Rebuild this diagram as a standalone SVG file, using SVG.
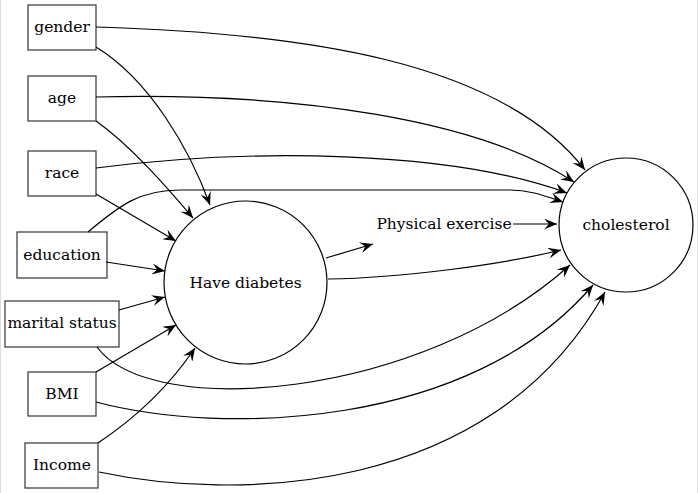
<svg xmlns="http://www.w3.org/2000/svg" width="698" height="493" viewBox="0 0 698 493">
<defs>
<marker id="arr" viewBox="0 0 13 11" markerWidth="13" markerHeight="11" refX="13" refY="5.5" markerUnits="userSpaceOnUse" orient="auto">
<path d="M0,0 L13,5.5 L0,11 L5,5.5 z" fill="#000"/>
</marker>
<style>
.box{fill:#fff;stroke:#444;stroke-width:1.3}
.circ{fill:#fff;stroke:#000;stroke-width:1.2}
text{font-family:"DejaVu Serif","Liberation Serif",serif;font-size:15.5px;fill:#000;text-anchor:middle}
.e{fill:none;stroke:#000;stroke-width:1.2;marker-end:url(#arr)}
</style>
</defs>
<rect x="0" y="0" width="698" height="493" fill="#fff"/>
<line x1="0.5" y1="0" x2="0.5" y2="493" stroke="#ddd"/>
<line x1="697.5" y1="0" x2="697.5" y2="493" stroke="#ddd"/>
<g id="gender"><rect class="box" x="28" y="5" width="68" height="45"/><text x="62" y="32">gender</text></g>
<g id="age"><rect class="box" x="28" y="76" width="68" height="45"/><text x="62" y="103">age</text></g>
<g id="race"><rect class="box" x="28" y="151" width="68" height="45"/><text x="62" y="178">race</text></g>
<g id="education"><rect class="box" x="17" y="232" width="90" height="46"/><text x="62" y="260">education</text></g>
<g id="marital"><rect class="box" x="5" y="301" width="114" height="46"/><text x="62" y="328">marital status</text></g>
<g id="bmi"><rect class="box" x="28" y="372" width="68" height="44"/><text x="62" y="399">BMI</text></g>
<g id="income"><rect class="box" x="25" y="443" width="73" height="45"/><text x="62" y="470">Income</text></g>
<g id="diabetes"><circle class="circ" cx="245.5" cy="282.5" r="81.5"/><text x="245.5" y="288">Have diabetes</text></g>
<g id="exercise"><text x="444" y="229">Physical exercise</text></g>
<g id="cholesterol"><circle class="circ" cx="626" cy="225" r="67"/><text x="626" y="230">cholesterol</text></g>
<g id="connectors">
<path class="e" d="M96,47 C150,80 190,150 210,205"/>
<path class="e" d="M96,121 C130,145 165,185 193,218"/>
<path class="e" d="M96,194 L176,241"/>
<path class="e" d="M106,262 L165,271"/>
<path class="e" d="M119,310 L165,297"/>
<path class="e" d="M96,372 L176,325"/>
<path class="e" d="M98,443 C140,415 170,385 195,348"/>
<path class="e" d="M326,258 L373,244"/>
<path class="e" d="M328,279 C400,278 500,265 561,250"/>
<path class="e" d="M513,224 L557,224"/>
<path class="e" d="M96,27 C300,33 500,60 585,170"/>
<path class="e" d="M96,97 C300,92 480,120 574,182"/>
<path class="e" d="M96,168 C250,148 450,150 567,193"/>
<path class="e" d="M88,232 C120,205 140,190 180,190 L510,190 C530,190 545,196 563,202"/>
<path class="e" d="M97,347 C150,420 420,400 570,265"/>
<path class="e" d="M96,402 C220,435 470,430 593,285"/>
<path class="e" d="M99,472 C230,500 490,500 605,292"/>
</g>
</svg>
